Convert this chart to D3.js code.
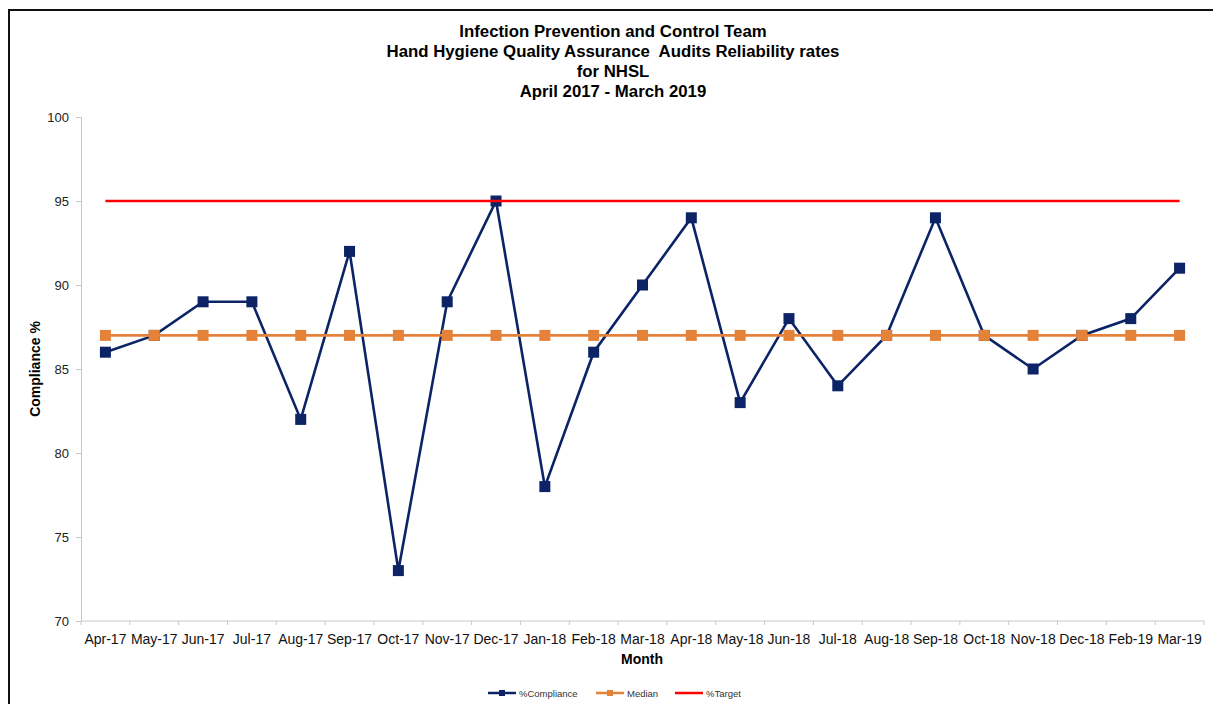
<!DOCTYPE html>
<html><head><meta charset="utf-8">
<script src="https://cdn.jsdelivr.net/npm/d3@7"></script>
<style>body{margin:0;background:#fff;} svg{display:block;font-family:"Liberation Sans",Arial,sans-serif;}</style>
</head><body>
<svg id="c" width="1213" height="704"></svg>
<script>
const months = ["Apr-17","May-17","Jun-17","Jul-17","Aug-17","Sep-17","Oct-17","Nov-17","Dec-17","Jan-18","Feb-18","Mar-18","Apr-18","May-18","Jun-18","Jul-18","Aug-18","Sep-18","Oct-18","Nov-18","Dec-18","Feb-19","Mar-19"];
const compliance = [86,87,89,89,82,92,73,89,95,78,86,90,94,83,88,84,87,94,87,85,87,88,91];
const median = [87,87,87,87,87,87,87,87,87,87,87,87,87,87,87,87,87,87,87,87,87,87,87];
const target = [95,95,95,95,95,95,95,95,95,95,95,95,95,95,95,95,95,95,95,95,95,95,95];
const yTicks = [70,75,80,85,90,95,100];
const titleLines = ["Infection Prevention and Control Team","Hand Hygiene Quality Assurance  Audits Reliability rates","for NHSL","April 2017 - March 2019"];
const legendNames = ["%Compliance","Median","%Target"];

const svg = d3.select("#c");
const navy = "#0C2466", orange = "#E5823A", red = "#FF0000";

// frame
svg.append("path").attr("d","M9,704 V10 H1213").attr("fill","none").attr("stroke","#111").attr("stroke-width",2);

const x = d3.scaleBand().domain(months).range([81,1204]).padding(0);
const y = d3.scaleLinear().domain([70,100]).range([621,117]);
const cx = d => x(d) + x.bandwidth()/2;

// title
svg.append("g").selectAll("text").data(titleLines).join("text")
  .attr("x",613).attr("y",(d,i)=>37+i*20).attr("text-anchor","middle")
  .style("white-space","pre")
  .attr("font-size",16.8).attr("font-weight","bold").attr("fill","#000").text(d=>d);

// axes
const yAxis = svg.append("g").attr("transform","translate(81,0)")
  .call(d3.axisLeft(y).tickValues(yTicks).tickSize(5).tickPadding(7));
yAxis.select(".domain").attr("stroke","#c8c8c8");
yAxis.selectAll(".tick line").attr("stroke","#c8c8c8");
yAxis.selectAll("text").attr("font-size",13).attr("fill","#222").attr("font-family","Liberation Sans, Arial, sans-serif");

const xAxis = svg.append("g").attr("transform","translate(0,621)")
  .call(d3.axisBottom(x).tickSize(0).tickPadding(13));
xAxis.select(".domain").attr("stroke","#c8c8c8").attr("d","M81,0H1204");
xAxis.selectAll("text").attr("font-size",14).attr("fill","#111").attr("font-family","Liberation Sans, Arial, sans-serif");
// boundary ticks
xAxis.append("g").selectAll("line").data(months.concat(["_end"])).join("line")
  .attr("x1",(d,i)=>81+i*x.bandwidth()).attr("x2",(d,i)=>81+i*x.bandwidth())
  .attr("y1",0).attr("y2",4).attr("stroke","#c8c8c8");

// axis titles
svg.append("text").attr("x",642).attr("y",664).attr("text-anchor","middle")
  .attr("font-size",14).attr("font-weight","bold").text("Month");
svg.append("text").attr("transform","translate(40,369) rotate(-90)").attr("text-anchor","middle")
  .attr("font-size",14).attr("font-weight","bold").text("Compliance %");

const line = d3.line().x((d,i)=>cx(months[i])).y(d=>y(d));

// compliance
svg.append("path").datum(compliance).attr("d",line).attr("fill","none").attr("stroke",navy).attr("stroke-width",2.6);
svg.append("g").selectAll("rect").data(compliance).join("rect")
  .attr("x",(d,i)=>cx(months[i])-5.5).attr("y",d=>y(d)-5.5).attr("width",11).attr("height",11).attr("fill",navy);

// median
svg.append("path").datum(median).attr("d",line).attr("fill","none").attr("stroke",orange).attr("stroke-width",2.6);
svg.append("g").selectAll("rect").data(median).join("rect")
  .attr("x",(d,i)=>cx(months[i])-5.5).attr("y",d=>y(d)-5.5).attr("width",11).attr("height",11).attr("fill",orange);

// target
svg.append("path").datum(target).attr("d",line).attr("fill","none").attr("stroke",red).attr("stroke-width",2.6);

// legend
const leg = [{n:legendNames[0],c:navy,m:true,x:488},{n:legendNames[1],c:orange,m:true,x:596},{n:legendNames[2],c:red,m:false,x:675}];
const lg = svg.append("g");
leg.forEach(l=>{
  lg.append("line").attr("x1",l.x).attr("x2",l.x+28).attr("y1",693).attr("y2",693).attr("stroke",l.c).attr("stroke-width",2.5);
  if(l.m) lg.append("rect").attr("x",l.x+11).attr("y",690).attr("width",6).attr("height",6).attr("fill",l.c);
  lg.append("text").attr("x",l.x+31).attr("y",696.5).attr("font-size",9.5).attr("fill","#333").text(l.n);
});
</script>
</body></html>
